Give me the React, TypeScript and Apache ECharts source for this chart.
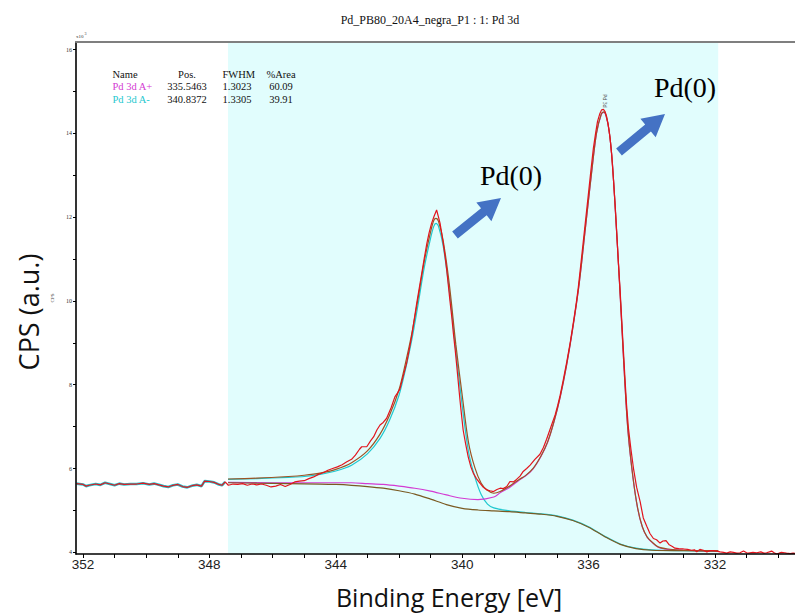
import { useEffect, useRef } from "react";
import * as echarts from "echarts";

// Binding energy (eV) vs counts (x10^3 CPS) for the Pd 3d region.
const rawData: [number, number][] = [
  [352.2, 5.64], [352.0, 5.62], [351.9, 5.58], [351.8, 5.6], [351.6, 5.63], [351.45, 5.61],
  [351.3, 5.66], [351.15, 5.63], [351.0, 5.6], [350.85, 5.64], [350.7, 5.62], [350.5, 5.63],
  [350.3, 5.63], [350.1, 5.65], [349.9, 5.62], [349.75, 5.64], [349.6, 5.61], [349.45, 5.58],
  [349.3, 5.56], [349.15, 5.6], [349.0, 5.62], [348.85, 5.57], [348.7, 5.55], [348.55, 5.59],
  [348.4, 5.61], [348.25, 5.58], [348.15, 5.7], [348.0, 5.69], [347.85, 5.67], [347.7, 5.62],
  [347.6, 5.6], [347.5, 5.68], [347.4, 5.6], [347.25, 5.63], [347.1, 5.62], [346.95, 5.64],
  [346.8, 5.6], [346.65, 5.63], [346.5, 5.61], [346.35, 5.63], [346.2, 5.6], [346.05, 5.56],
  [345.9, 5.58], [345.75, 5.62], [345.6, 5.57], [345.45, 5.62], [345.3, 5.68], [345.15, 5.7],
  [345.0, 5.71], [344.85, 5.76], [344.7, 5.8], [344.55, 5.86], [344.4, 5.9], [344.25, 5.96],
  [344.1, 6.0], [343.95, 6.04], [343.8, 6.09], [343.65, 6.16], [343.5, 6.22], [343.38, 6.32],
  [343.25, 6.46], [343.18, 6.52], [343.02, 6.52], [342.9, 6.66], [342.8, 6.76], [342.7, 6.92],
  [342.6, 7.04], [342.5, 7.1], [342.39, 7.2], [342.25, 7.45], [342.13, 7.71], [342.05, 7.8],
  [341.97, 7.9], [341.85, 8.25], [341.76, 8.51], [341.68, 8.82], [341.6, 9.15], [341.52, 9.55],
  [341.44, 9.94], [341.36, 10.3], [341.28, 10.66], [341.2, 11.02], [341.12, 11.37], [341.05, 11.62],
  [340.97, 11.85], [340.89, 12.02], [340.81, 12.17], [340.75, 12.0], [340.7, 11.85], [340.65, 11.62],
  [340.6, 11.37], [340.54, 11.05], [340.49, 10.74], [340.44, 10.38], [340.39, 10.02], [340.33, 9.62],
  [340.28, 9.23], [340.22, 8.82], [340.17, 8.43], [340.12, 8.03], [340.07, 7.63], [340.02, 7.27],
  [339.97, 6.92], [339.89, 6.58], [339.81, 6.28], [339.73, 6.05], [339.65, 5.89], [339.55, 5.76],
  [339.44, 5.65], [339.33, 5.55], [339.22, 5.49], [339.12, 5.47], [339.01, 5.45], [338.9, 5.5],
  [338.8, 5.53], [338.7, 5.52], [338.59, 5.57], [338.49, 5.69], [338.38, 5.68], [338.28, 5.74],
  [338.17, 5.82], [338.07, 5.93], [337.96, 6.0], [337.85, 6.08], [337.7, 6.22], [337.54, 6.34],
  [337.43, 6.5], [337.33, 6.7], [337.2, 6.98], [337.06, 7.28], [336.98, 7.5], [336.9, 7.75],
  [336.8, 8.12], [336.69, 8.55], [336.58, 9.02], [336.48, 9.5], [336.4, 9.9], [336.33, 10.3],
  [336.25, 10.85], [336.17, 11.41], [336.09, 11.97], [336.01, 12.53], [335.93, 13.1], [335.85, 13.64],
  [335.78, 14.0], [335.72, 14.28], [335.65, 14.46], [335.59, 14.56], [335.53, 14.57], [335.48, 14.52],
  [335.43, 14.4], [335.38, 14.2], [335.32, 13.88], [335.27, 13.48], [335.22, 12.95], [335.16, 12.29],
  [335.11, 11.62], [335.06, 10.94], [335.0, 10.2], [334.95, 9.5], [334.9, 8.82], [334.85, 8.15],
  [334.8, 7.52], [334.74, 6.96], [334.66, 6.45], [334.58, 6.0], [334.48, 5.55], [334.37, 5.21],
  [334.27, 4.82], [334.16, 4.62], [334.06, 4.45], [333.95, 4.33], [333.85, 4.3], [333.74, 4.22],
  [333.65, 4.27], [333.55, 4.28], [333.45, 4.18], [333.35, 4.14], [333.27, 4.1], [333.15, 4.09],
  [333.0, 4.08], [332.87, 4.07], [332.74, 4.05], [332.65, 4.06], [332.58, 4.01], [332.48, 4.07],
  [332.37, 4.05], [332.26, 4.01], [332.15, 4.04], [332.05, 4.04], [331.95, 4.03], [331.84, 4.01],
  [331.73, 4.0], [331.63, 3.98], [331.52, 4.01], [331.42, 4.0], [331.31, 3.98], [331.21, 3.99],
  [331.1, 4.03], [331.0, 3.99], [330.95, 3.98], [330.8, 4.0], [330.68, 3.99], [330.55, 4.01],
  [330.45, 3.98], [330.37, 3.99], [330.28, 4.01], [330.21, 4.03], [330.13, 3.99], [330.05, 3.96],
  [329.97, 3.98], [329.9, 4.0], [329.8, 3.99], [329.74, 3.98], [329.62, 3.97], [329.53, 3.98],
  [329.45, 3.97],
];

// Shirley-type background over the fitted region
const backgroundData: [number, number][] = [
  [347.41, 5.66], [346.5, 5.65], [345.5, 5.64], [344.5, 5.63], [344.0, 5.62], [343.5, 5.6],
  [343.0, 5.57], [342.5, 5.53], [342.0, 5.47], [341.5, 5.39], [341.0, 5.27], [340.5, 5.14],
  [340.0, 5.05], [339.5, 5.01], [339.0, 4.99], [338.5, 4.97], [338.0, 4.94], [337.5, 4.91],
  [337.0, 4.86], [336.5, 4.76], [336.0, 4.6], [335.5, 4.38], [335.0, 4.19], [334.5, 4.09],
  [334.0, 4.05], [333.0, 4.04], [331.9, 4.03],
];

// Pd 3d A- component (3d3/2) on top of the background
const peakMinusData: [number, number][] = [
  [347.41, 5.74], [346.5, 5.76], [345.5, 5.79], [345.0, 5.81], [344.5, 5.86], [344.0, 5.94],
  [343.5, 6.08], [343.0, 6.35], [342.6, 6.72], [342.3, 7.15], [342.0, 7.75], [341.8, 8.35],
  [341.6, 9.05], [341.4, 9.9], [341.2, 10.8], [341.0, 11.5], [340.9, 11.78], [340.83, 11.85],
  [340.75, 11.78], [340.6, 11.3], [340.4, 10.2], [340.2, 8.8], [340.0, 7.5], [339.8, 6.4],
  [339.6, 5.8], [339.4, 5.38], [339.2, 5.15], [339.0, 5.06], [338.6, 5.0], [338.0, 4.95],
  [337.5, 4.92], [337.0, 4.87], [336.5, 4.77], [336.0, 4.61], [335.5, 4.39], [335.0, 4.2],
  [334.5, 4.1], [334.0, 4.06], [333.0, 4.04], [331.9, 4.03],
];

// Pd 3d A+ component (3d5/2) on top of the background
const peakPlusData: [number, number][] = [
  [347.41, 5.67], [346.0, 5.66], [345.0, 5.66], [344.0, 5.66], [343.5, 5.66], [343.0, 5.64],
  [342.5, 5.62], [342.0, 5.58], [341.5, 5.53], [341.0, 5.46], [340.5, 5.37], [340.0, 5.29],
  [339.5, 5.26], [339.0, 5.32], [338.8, 5.42], [338.5, 5.55], [338.2, 5.72], [338.0, 5.82],
  [337.75, 6.0], [337.5, 6.3], [337.3, 6.62], [337.1, 7.1], [336.9, 7.7], [336.7, 8.45],
  [336.5, 9.35], [336.3, 10.4], [336.1, 11.75], [335.9, 13.1], [335.75, 14.0], [335.6, 14.45],
  [335.52, 14.5], [335.45, 14.42], [335.35, 14.05], [335.25, 13.3], [335.15, 12.1], [335.05, 10.8],
  [334.95, 9.4], [334.85, 8.0], [334.75, 6.85], [334.6, 5.8], [334.45, 5.05], [334.3, 4.6],
  [334.15, 4.36], [334.0, 4.24], [333.8, 4.12], [333.5, 4.07], [333.0, 4.05], [331.9, 4.03],
];

// Fit envelope (sum of components and background)
const envelopeData: [number, number][] = [
  [347.41, 5.75], [346.5, 5.77], [345.5, 5.81], [345.0, 5.84], [344.5, 5.89], [344.0, 5.98],
  [343.5, 6.14], [343.0, 6.42], [342.6, 6.82], [342.3, 7.27], [342.0, 7.88], [341.8, 8.5],
  [341.6, 9.2], [341.4, 10.05], [341.2, 10.95], [341.0, 11.65], [340.9, 11.92], [340.83, 11.97],
  [340.75, 11.9], [340.6, 11.43], [340.4, 10.35], [340.2, 8.95], [340.0, 7.75], [339.8, 6.62],
  [339.6, 6.02], [339.4, 5.65], [339.2, 5.48], [339.0, 5.41], [338.8, 5.45], [338.5, 5.58],
  [338.2, 5.74], [338.0, 5.83], [337.75, 6.01], [337.5, 6.31], [337.3, 6.63], [337.1, 7.11],
  [336.9, 7.71], [336.7, 8.46], [336.5, 9.36], [336.3, 10.41], [336.1, 11.76], [335.9, 13.11],
  [335.75, 14.01], [335.6, 14.46], [335.52, 14.51], [335.45, 14.43], [335.35, 14.06], [335.25, 13.31],
  [335.15, 12.11], [335.05, 10.81], [334.95, 9.41], [334.85, 8.01], [334.75, 6.86], [334.6, 5.81],
  [334.45, 5.06], [334.3, 4.61], [334.15, 4.37], [334.0, 4.25], [333.8, 4.13], [333.5, 4.08],
  [333.0, 4.05], [331.9, 4.04],
];

const regionStart = 347.41;
const regionEnd = 331.9;

const xTickValues = [352, 351, 350, 349, 348, 347, 346, 345, 344, 343, 342, 341, 340, 339, 338, 337, 336, 335, 334, 333, 332, 331, 330];
const xLabelValues = [352, 348, 344, 340, 336, 332];
const yTickValues = [4, 5, 6, 7, 8, 9, 10, 11, 12, 13, 14, 15, 16];
const yLabelValues = [4, 6, 8, 10, 12, 14, 16];

const tableHeader = ["Name", "Pos.", "FWHM", "%Area"];
const componentNames = ["Pd 3d A+", "Pd 3d A-"];
const componentPos = ["335.5463", "340.8372"];
const componentFwhm = ["1.3023", "1.3305"];
const componentArea = ["60.09", "39.91"];

const title = "Pd_PB80_20A4_negra_P1 : 1: Pd 3d";
const peakLabel = "Pd(0)";

const RED = "#e3141d";
const CYAN = "#1fc8cf";
const MAGENTA = "#d33bd3";
const BROWN = "#9c5424";
const OLIVE = "#7a5a22";
const ARROW = "#4472c4";
const SERIF = "'Liberation Serif', 'Times New Roman', serif";
const SANS = "'Open Sans', 'Noto Sans', sans-serif";

function blockArrow(tail: number[], tip: number[], shaftW: number, headW: number, headL: number) {
  const dx = tip[0] - tail[0];
  const dy = tip[1] - tail[1];
  const len = Math.hypot(dx, dy);
  const ux = dx / len, uy = dy / len;
  const nx = -uy, ny = ux;
  const bx = tip[0] - ux * headL, by = tip[1] - uy * headL;
  const s = shaftW / 2, h = headW / 2;
  return [
    [tail[0] + nx * s, tail[1] + ny * s],
    [bx + nx * s, by + ny * s],
    [bx + nx * h, by + ny * h],
    [tip[0], tip[1]],
    [bx - nx * h, by - ny * h],
    [bx - nx * s, by - ny * s],
    [tail[0] - nx * s, tail[1] - ny * s],
  ];
}

function buildOption() {
  const tableCols = [
    { x: 112.5, align: "left" },
    { x: 187, align: "center" },
    { x: 222.5, align: "left" },
    { x: 281, align: "center" },
  ];
  const rowsY = [74, 86.5, 99.5];
  const tableTexts: any[] = [];
  tableHeader.forEach((h, i) => {
    tableTexts.push({
      type: "text", x: tableCols[i].x, y: rowsY[0], z: 50,
      style: { text: h, fill: "#111", font: `10.5px ${SERIF}`, textAlign: tableCols[i].align, textVerticalAlign: "middle" },
    });
  });
  componentNames.forEach((name, r) => {
    const cells = [name, componentPos[r], componentFwhm[r], componentArea[r]];
    cells.forEach((c, i) => {
      tableTexts.push({
        type: "text", x: tableCols[i].x, y: rowsY[r + 1], z: 50,
        style: {
          text: c, fill: i === 0 ? (r === 0 ? MAGENTA : CYAN) : "#111",
          font: `10.5px ${SERIF}`, textAlign: tableCols[i].align, textVerticalAlign: "middle",
        },
      });
    });
  });

  const lineBase = { type: "line", showSymbol: false, symbol: "none", z: 3, silent: true };

  return {
    animation: false,
    backgroundColor: "#ffffff",
    grid: { left: 76, right: 0, top: 42, bottom: 61, containLabel: false },
    xAxis: [
      {
        type: "value", inverse: true, min: 329.47, max: 352.22, z: 10,
        axisLine: { show: true, lineStyle: { color: "#000", width: 1.6 } },
        axisTick: { show: true, customValues: xTickValues, length: 4, lineStyle: { color: "#000", width: 1 } },
        axisLabel: { customValues: xLabelValues, color: "#222", fontSize: 13.5, fontFamily: "'Liberation Sans', Arial, sans-serif", margin: 3 },
        splitLine: { show: false },
      },
      {
        type: "value", inverse: true, min: 329.47, max: 352.22, position: "top", z: 10,
        axisLine: { show: true, lineStyle: { color: "#7f7f7f", width: 2 } },
        axisTick: { show: false }, axisLabel: { show: false }, splitLine: { show: false },
      },
    ],
    yAxis: {
      type: "value", min: 3.96, max: 16.18, z: 10,
      name: "CPS", nameLocation: "middle", nameRotate: 90, nameGap: 12,
      nameTextStyle: { fontSize: 5, color: "#444", fontFamily: SERIF },
      axisLine: { show: true, lineStyle: { color: "#000", width: 1.6 } },
      axisTick: { show: true, customValues: yTickValues, length: 3, lineStyle: { color: "#000", width: 1 } },
      axisLabel: { customValues: yLabelValues, fontSize: 6, color: "#333", fontFamily: SERIF, margin: 4 },
      splitLine: { show: false },
    },
    series: [
      {
        type: "line", data: [], z: 1, silent: true,
        markArea: {
          silent: true,
          itemStyle: { color: "#e1fdfd" },
          data: [[{ xAxis: regionStart }, { xAxis: regionEnd }]],
        },
      },
      { ...lineBase, name: "Pd 3d A-", data: peakMinusData, smooth: 0.3, lineStyle: { color: CYAN, width: 1.2 } },
      { ...lineBase, name: "Pd 3d A+", data: peakPlusData, smooth: 0.3, lineStyle: { color: MAGENTA, width: 1.2 } },
      { ...lineBase, name: "Background", data: backgroundData, smooth: 0.3, lineStyle: { color: OLIVE, width: 1.2 } },
      {
        ...lineBase, name: "Outside region", data: rawData.filter((d) => d[0] >= regionStart),
        lineStyle: { color: CYAN, width: 2.6 },
      },
      { ...lineBase, name: "Envelope", data: envelopeData, smooth: 0.3, lineStyle: { color: BROWN, width: 1.2 } },
      { ...lineBase, name: "Data", data: rawData, z: 4, lineStyle: { color: RED, width: 1.2 } },
    ],
    graphic: [
      {
        type: "text", x: 430, y: 20, z: 50,
        style: { text: title, font: `12px ${SERIF}`, fill: "#111", textAlign: "center", textVerticalAlign: "middle" },
      },
      {
        type: "text", x: 76, y: 36, z: 50,
        style: { text: "x10", font: `5px ${SERIF}`, fill: "#333", textAlign: "left", textVerticalAlign: "middle" },
      },
      {
        type: "text", x: 84.5, y: 33.5, z: 50,
        style: { text: "3", font: `4px ${SERIF}`, fill: "#333", textAlign: "left", textVerticalAlign: "middle" },
      },
      ...tableTexts,
      {
        type: "text", x: 605, y: 101, rotation: -Math.PI / 2, z: 50,
        style: { text: "Pd 3d", font: `5px ${SANS}`, fill: "#555", textAlign: "center", textVerticalAlign: "middle" },
      },
      {
        type: "text", x: 28, y: 312, rotation: Math.PI / 2, z: 50,
        style: { text: "CPS (a.u.)", font: `27px ${SANS}`, fill: "#111", textAlign: "center", textVerticalAlign: "middle" },
      },
      {
        type: "text", x: 449, y: 597, z: 50,
        style: { text: "Binding Energy [eV]", font: `25px ${SANS}`, fill: "#111", textAlign: "center", textVerticalAlign: "middle" },
      },
      {
        type: "text", x: 511, y: 175, z: 50,
        style: { text: peakLabel, font: `28px ${SERIF}`, fill: "#000", textAlign: "center", textVerticalAlign: "middle" },
      },
      {
        type: "text", x: 685, y: 87, z: 50,
        style: { text: peakLabel, font: `28px ${SERIF}`, fill: "#000", textAlign: "center", textVerticalAlign: "middle" },
      },
      {
        type: "polygon", z: 50,
        shape: { points: blockArrow([455, 235], [501, 198], 9, 24, 22) },
        style: { fill: ARROW },
      },
      {
        type: "polygon", z: 50,
        shape: { points: blockArrow([619, 152], [665, 114], 9, 24, 22) },
        style: { fill: ARROW },
      },
    ],
  };
}

export default function App() {
  const ref = useRef<HTMLDivElement>(null);
  useEffect(() => {
    if (!ref.current) return;
    const chart = echarts.init(ref.current, null, { renderer: "svg" });
    chart.setOption(buildOption() as any);
    return () => chart.dispose();
  }, []);
  return (
    <div
      ref={ref}
      style={{ position: "fixed", left: 0, top: 0, width: 795, height: 615, background: "#fff" }}
    />
  );
}
